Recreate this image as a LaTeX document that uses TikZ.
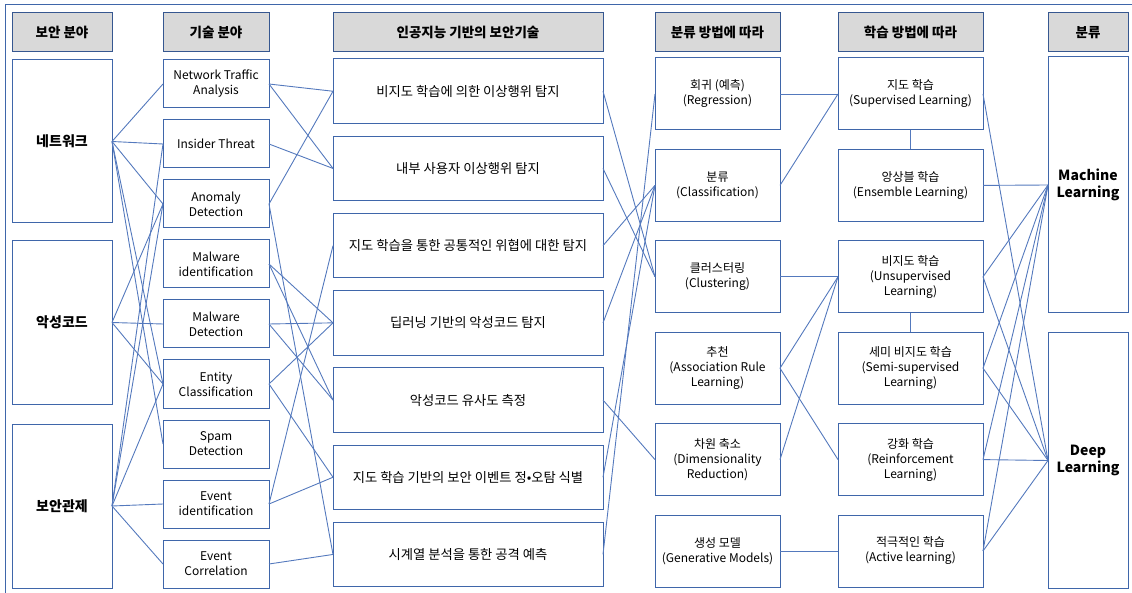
\documentclass[tikz,border=0pt]{standalone}
\usepackage{fontspec}
\setmainfont{Noto Sans CJK KR}
\usepackage{tikz}
\usetikzlibrary{positioning}
\definecolor{boxblue}{HTML}{3F66AA}
\definecolor{linkblue}{HTML}{5479BD}
\definecolor{headgray}{HTML}{D9D9D9}
\tikzset{
    box/.style={rectangle, draw=boxblue, line width=1pt, fill=white, outer sep=0pt, inner sep=1pt, align=center, font=\fontsize{12}{15}\selectfont},
    headbox/.style={box, fill=headgray, draw=boxblue!85!black, minimum height=39pt, font=\fontsize{13.5}{16}\selectfont\bfseries},
    fieldbox/.style={box, minimum width=100pt, minimum height=163pt, font=\fontsize{14}{17}\selectfont\bfseries},
    techbox/.style={box, minimum width=106pt, minimum height=48pt},
    aibox/.style={box, minimum width=270pt, minimum height=64.5pt, font=\fontsize{13.3}{16}\selectfont},
    methodbox/.style={box, minimum width=125pt, minimum height=72pt},
    learnbox/.style={box, minimum width=145pt, minimum height=72pt},
    classbox/.style={box, minimum width=80pt, minimum height=256pt, font=\fontsize{14}{17}\selectfont\bfseries},
    link/.style={draw=linkblue, line width=0.9pt}
}

\begin{document}
\begin{tikzpicture}[x=1pt, y=-1pt]
        \useasboundingbox (0,0) rectangle (1132,593);
        \draw[boxblue, line width=0.6pt] (5,593) -- (5,4) -- (1132,4);
        % security fields
        \node[fieldbox, anchor=north west] (net) at (12,60) {네트워크};
        \node[fieldbox, below=18pt of net] (mal) {악성코드};
        \node[fieldbox, below=20pt of mal, minimum height=164pt] (sec) {보안관제};
        % technical fields
        \node[techbox, anchor=north west] (nta) at (163,60) {Network Traffic\\Analysis};
        \node[techbox, below=12pt of nta] (ins) {Insider Threat};
        \node[techbox, below=12pt of ins] (ano) {Anomaly\\Detection};
        \node[techbox, below=12pt of ano] (mid) {Malware\\identification};
        \node[techbox, below=12pt of mid] (mdet) {Malware\\Detection};
        \node[techbox, below=12pt of mdet] (ent) {Entity\\Classification};
        \node[techbox, below=12pt of ent] (spam) {Spam\\Detection};
        \node[techbox, below=12pt of spam] (evid) {Event\\identification};
        \node[techbox, below=12pt of evid] (evcor) {Event\\Correlation};
        % AI based security techniques
        \node[aibox, anchor=north west] (ai1) at (333,59) {비지도 학습에 의한 이상행위 탐지};
        \node[aibox, below=12.7pt of ai1] (ai2) {내부 사용자 이상행위 탐지};
        \node[aibox, below=12.7pt of ai2] (ai3) {지도 학습을 통한 공통적인 위협에 대한 탐지};
        \node[aibox, below=12.7pt of ai3] (ai4) {딥러닝 기반의 악성코드 탐지};
        \node[aibox, below=12.7pt of ai4] (ai5) {악성코드 유사도 측정};
        \node[aibox, below=12.7pt of ai5] (ai6) {지도 학습 기반의 보안 이벤트 정•오탐 식별};
        \node[aibox, below=12.7pt of ai6] (ai7) {시계열 분석을 통한 공격 예측};
        % by method
        \node[methodbox, anchor=north west] (reg) at (655,58) {회귀 (예측)\\(Regression)};
        \node[methodbox, below=19.4pt of reg] (cls) {분류\\(Classification)};
        \node[methodbox, below=19.4pt of cls] (clu) {클러스터링\\(Clustering)};
        \node[methodbox, below=19.4pt of clu] (asc) {추천\\(Association Rule\\Learning)};
        \node[methodbox, below=19.4pt of asc] (dim) {차원 축소\\(Dimensionality\\Reduction)};
        \node[methodbox, below=19.4pt of dim] (gen) {생성 모델\\(Generative Models)};
        % by learning
        \node[learnbox, anchor=north west] (sup) at (838,58) {지도 학습\\(Supervised Learning)};
        \node[learnbox, below=19.4pt of sup] (ens) {앙상블 학습\\(Ensemble Learning)};
        \node[learnbox, below=19.4pt of ens] (uns) {비지도 학습\\(Unsupervised\\Learning)};
        \node[learnbox, below=19.4pt of uns] (semi) {세미 비지도 학습\\(Semi-supervised\\Learning)};
        \node[learnbox, below=19.4pt of semi] (rei) {강화 학습\\(Reinforcement\\Learning)};
        \node[learnbox, below=19.4pt of rei] (act) {적극적인 학습\\(Active learning)};
        % classes
        \node[classbox, anchor=north west] (ml) at (1048,57) {Machine\\Learning};
        \node[classbox, below=20pt of ml, minimum height=255pt] (dl) {Deep\\Learning};
        % headers
        \node[headbox, minimum width=100pt, above=8pt of net] (h1) {보안 분야};
        \node[headbox, minimum width=106pt, above=8pt of nta] (h2) {기술 분야};
        \node[headbox, minimum width=270pt, above=7pt of ai1] (h3) {인공지능 기반의 보안기술};
        \node[headbox, minimum width=125pt, above=6pt of reg] (h4) {분류 방법에 따라};
        \node[headbox, minimum width=145pt, above=6pt of sup] (h5) {학습 방법에 따라};
        \node[headbox, minimum width=80pt, above=5pt of ml] (h6) {분류};
        % fields -> technical fields
        \draw[link] (net.east) -- (nta.west);
        \draw[link] (net.east) -- (ins.west);
        \draw[link] (net.east) -- (ano.west);
        \draw[link] (net.east) -- (ent.west);
        \draw[link] (net.east) -- (spam.west);
        \draw[link] (mal.east) -- (ano.west);
        \draw[link] (mal.east) -- (mdet.west);
        \draw[link] (mal.east) -- (ent.west);
        \draw[link] (sec.east) -- (ins.west);
        \draw[link] (sec.east) -- (ano.west);
        \draw[link] (sec.east) -- (ent.west);
        \draw[link] (sec.east) -- (evid.west);
        \draw[link] (sec.east) -- (evcor.west);
        % technical fields -> AI techniques
        \draw[link] (nta.east) -- (ai1.west);
        \draw[link] (nta.east) -- (ai2.west);
        \draw[link] (ins.east) -- (ai2.west);
        \draw[link] (ano.east) -- (ai1.west);
        \draw[link] (ano.east) -- (ai7.west);
        \draw[link] (mid.east) -- (ai4.west);
        \draw[link] (mid.east) -- (ai5.west);
        \draw[link] (mdet.east) -- (ai4.west);
        \draw[link] (mdet.east) -- (ai5.west);
        \draw[link] (ent.east) -- (ai4.west);
        \draw[link] (ent.east) -- (ai6.west);
        \draw[link] (evid.east) -- (ai3.west);
        \draw[link] (evid.east) -- (ai6.west);
        \draw[link] (evcor.east) -- (ai7.west);
        % AI techniques -> methods
        \draw[link] (ai1.east) -- (clu.west);
        \draw[link] (ai2.east) -- (clu.west);
        \draw[link] (ai3.east) -- (cls.west);
        \draw[link] (ai4.east) -- (cls.west);
        \draw[link] (ai5.east) -- (dim.west);
        \draw[link] (ai6.east) -- (cls.west);
        \draw[link] (ai7.east) -- (reg.west);
        % methods -> learning
        \draw[link] (reg.east) -- (sup.west);
        \draw[link] (cls.east) -- (sup.west);
        \draw[link] (clu.east) -- (uns.west);
        \draw[link] (asc.east) -- (uns.west);
        \draw[link] (asc.east) -- (rei.west);
        \draw[link] (dim.east) -- (uns.west);
        \draw[link] (gen.east) -- (act.west);
        \draw[link] (sup) -- (ens);
        \draw[link] (uns) -- (semi);
        % learning -> classes
        \draw[link] (sup.east) -- (dl.west);
        \draw[link] (ens.east) -- (ml.west);
        \draw[link] (uns.east) -- (ml.west);
        \draw[link] (uns.east) -- (dl.west);
        \draw[link] (semi.east) -- (ml.west);
        \draw[link] (semi.east) -- (dl.west);
        \draw[link] (rei.east) -- (ml.west);
        \draw[link] (rei.east) -- (dl.west);
        \draw[link] (act.east) -- (ml.west);
        \draw[link] (act.east) -- (dl.west);
    \end{tikzpicture}
\end{document}
